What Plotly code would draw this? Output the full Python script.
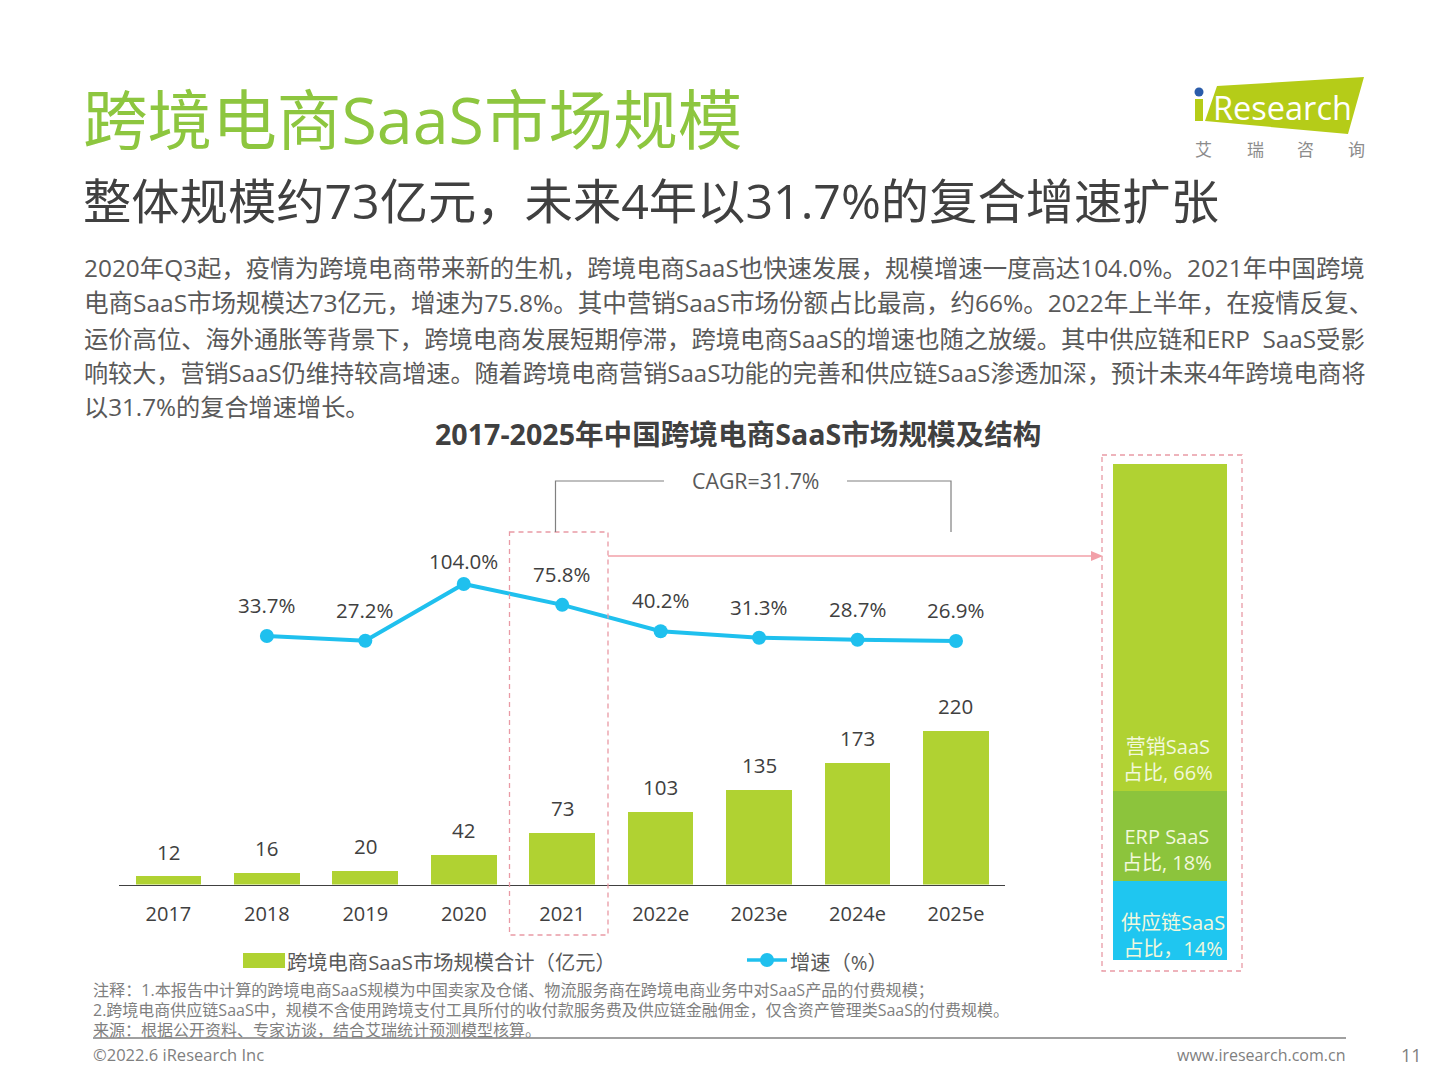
import plotly.graph_objects as go

W, H = 1440, 1080
FONT = "Open Sans, Noto Sans CJK SC, sans-serif"

categories = ["2017", "2018", "2019", "2020", "2021", "2022e", "2023e", "2024e", "2025e"]
market_size = [12, 16, 20, 42, 73, 103, 135, 173, 220]
growth_categories = ["2018", "2019", "2020", "2021", "2022e", "2023e", "2024e", "2025e"]
growth_rate = [33.7, 27.2, 104.0, 75.8, 40.2, 31.3, 28.7, 26.9]
growth_labels = ["33.7%", "27.2%", "104.0%", "75.8%", "40.2%", "31.3%", "28.7%", "26.9%"]
structure_names = ["供应链SaaS", "ERP SaaS", "营销SaaS"]
structure_heights = [16, 18, 66]
structure_colors = ["#1FC6F0", "#8CC43C", "#B0D232"]

paragraph = [
    "2020年Q3起，疫情为跨境电商带来新的生机，跨境电商SaaS也快速发展，规模增速一度高达104.0%。2021年中国跨境",
    "电商SaaS市场规模达73亿元，增速为75.8%。其中营销SaaS市场份额占比最高，约66%。2022年上半年，在疫情反复、",
    "运价高位、海外通胀等背景下，跨境电商发展短期停滞，跨境电商SaaS的增速也随之放缓。其中供应链和ERP  SaaS受影",
    "响较大，营销SaaS仍维持较高增速。随着跨境电商营销SaaS功能的完善和供应链SaaS渗透加深，预计未来4年跨境电商将",
    "以31.7%的复合增速增长。",
]
notes = [
    "注释：1.本报告中计算的跨境电商SaaS规模为中国卖家及仓储、物流服务商在跨境电商业务中对SaaS产品的付费规模；",
    "2.跨境电商供应链SaaS中，规模不含使用跨境支付工具所付的收付款服务费及供应链金融佣金，仅含资产管理类SaaS的付费规模。",
    "来源：根据公开资料、专家访谈，结合艾瑞统计预测模型核算。",
]


def px(x):
    return x / W


def py(y):
    return 1 - y / H


annotations = []
shapes = []


def text(x, y, s, size, color="#404040", anchor="left", bold=False):
    annotations.append(dict(
        xref="paper", yref="paper", x=px(x), y=py(y), text=f"<b>{s}</b>" if bold else s,
        xanchor=anchor, yanchor="middle", showarrow=False,
        font=dict(family=FONT, size=size, color=color), borderpad=0, borderwidth=0,
    ))


def pshape(d, fill=None, line=None, width=1, dash="solid"):
    shapes.append(dict(
        type="path", xref="paper", yref="paper", path=d,
        fillcolor=fill if fill else "rgba(0,0,0,0)",
        line=dict(color=line if line else "rgba(0,0,0,0)", width=width if line else 0, dash=dash),
    ))


def seg(pts):
    return "M " + " L ".join(f"{px(x):.5f},{py(y):.5f}" for x, y in pts)


# Headings
text(83, 119, "跨境电商SaaS市场规模", 64.6, "#8DC63F")
text(83, 200, "整体规模约73亿元，未来4年以31.7%的复合增速扩张", 48.3, "#404040")
for y, line, size in zip([267.5, 302.5, 338.5, 372.5, 406.5], paragraph, [24.4, 24.5, 24.3, 24.1, 24.2]):
    text(84, y, line, size, "#595959")
text(738, 433.5, "2017-2025年中国跨境电商SaaS市场规模及结构", 28.6, "#404040", "center", True)

# Logo
pshape(seg([(1217, 86), (1364, 77), (1348, 134), (1205, 121)]) + " Z", fill="#B5CC18")
pshape(seg([(1195, 99), (1203, 99), (1203, 121), (1195, 121)]) + " Z", fill="#B5CC18")
shapes.append(dict(type="circle", xref="paper", yref="paper", x0=px(1194.5), x1=px(1203.5),
                   y0=py(96.5), y1=py(87.5), fillcolor="#2A5CAA", line=dict(width=0)))
text(1282, 107, "Research", 32.5, "#FFFFFF", "center")
for x, ch in zip([1203, 1255, 1305, 1356], "艾瑞咨询"):
    text(x, 150, ch, 17, "#8C8C8C", "center")

# Call-outs
PINK = "#E99AA5"
pshape(seg([(509.5, 532), (608, 532), (608, 935), (509.5, 935)]) + " Z", line=PINK, width=1.3, dash="5px,4px")
pshape(seg([(1102, 455), (1242, 455), (1242, 971), (1102, 971)]) + " Z", line=PINK, width=1.3, dash="5px,4px")
pshape(seg([(608, 556), (1092, 556)]), line="#F2A0A8", width=1.6)
pshape(seg([(1091, 551), (1103, 556), (1091, 561)]) + " Z", fill="#F2A0A8")
pshape(seg([(555.5, 532), (555.5, 481), (664, 481)]), line="#808080", width=1.2)
pshape(seg([(847, 481), (951, 481), (951, 532)]), line="#808080", width=1.2)
text(755, 480, "CAGR=31.7%", 21.3, "#595959", "center")

# Legend
pshape(seg([(243, 953), (285, 953), (285, 968), (243, 968)]) + " Z", fill="#B0D232")
text(287, 962, "跨境电商SaaS市场规模合计（亿元）", 20.3, "#595959")
pshape(seg([(747, 960), (787, 960)]), line="#1FC0EE", width=3.5)
shapes.append(dict(type="circle", xref="paper", yref="paper", x0=px(760), x1=px(774),
                   y0=py(967), y1=py(953), fillcolor="#1FC0EE", line=dict(width=0)))
text(790, 962, "增速（%）", 20.3, "#595959")

# Stacked-bar labels
for x, y, s in zip([1168, 1167, 1173], [759.5, 849.5, 935.5],
                   ["营销SaaS<br>占比, 66%", "ERP SaaS<br>占比, 18%", "供应链SaaS<br>占比，14%"]):
    text(x, y, s, 20, "#F2F8DC", "center")

# Footer
for y, line, size in zip([990, 1010, 1030], notes, [16.1, 16, 16]):
    text(93, y, line, size, "#7F7F7F")
pshape(seg([(93, 1038), (1346, 1038)]), line="#808080", width=1.6)
text(93, 1054.5, "©2022.6 iResearch Inc", 16.5, "#7F7F7F")
text(1345, 1054.5, "www.iresearch.com.cn", 16, "#7F7F7F", "right")
text(1411, 1054.5, "11", 18, "#7F7F7F", "center")

# Value labels tied to the data; category axes place annotations by category index
for i, v in enumerate(market_size):
    annotations.append(dict(xref="x", yref="y", x=i, y=v, text=str(v), yanchor="middle",
                            yshift=25 if v > 12 else 24, showarrow=False,
                            font=dict(family=FONT, size=20.5, color="#404040")))
for c, v, s in zip(growth_categories, growth_rate, growth_labels):
    annotations.append(dict(xref="x", yref="y2", x=categories.index(c), y=v, text=s, yanchor="middle",
                            yshift=23 if v > 100 else 31, showarrow=False,
                            font=dict(family=FONT, size=20.5, color="#404040")))

fig = go.Figure()
fig.add_trace(go.Bar(x=categories, y=market_size, width=0.667, marker=dict(color="#B0D232", line=dict(width=0)),
                     name="跨境电商SaaS市场规模合计（亿元）", xaxis="x", yaxis="y"))
fig.add_trace(go.Scatter(x=growth_categories, y=growth_rate, mode="lines+markers", name="增速（%）",
                         line=dict(color="#1FC0EE", width=4), marker=dict(color="#1FC0EE", size=14),
                         xaxis="x", yaxis="y2"))
for name, h, col in zip(structure_names, structure_heights, structure_colors):
    fig.add_trace(go.Bar(x=["结构"], y=[h], width=1, name=name, marker=dict(color=col, line=dict(width=0)),
                         xaxis="x3", yaxis="y3"))

TOP, BASE = 460, 884.5
fig.update_layout(
    width=W, height=H, autosize=False, margin=dict(l=0, r=0, t=0, b=0),
    paper_bgcolor="#FFFFFF", plot_bgcolor="rgba(0,0,0,0)", showlegend=False, barmode="stack",
    font=dict(family=FONT, color="#404040"),
    annotations=annotations, shapes=shapes,
    xaxis=dict(domain=[px(119.2), px(1005.2)], type="category", categoryorder="array", categoryarray=categories,
               range=[-0.5, 8.5], showgrid=False, showline=True, linecolor="#404040", linewidth=1.3,
               ticks="", ticklabelstandoff=11, tickfont=dict(family=FONT, size=20, color="#404040"), anchor="y"),
    yaxis=dict(domain=[py(BASE), py(TOP)], range=[0, (BASE - TOP) / 0.7], visible=False, anchor="x"),
    yaxis2=dict(domain=[py(BASE), py(TOP)], range=[26.9 - (BASE - 641) / 0.74, 104 + (584 - TOP) / 0.74],
                visible=False, anchor="x", overlaying="y"),
    xaxis3=dict(domain=[px(1113), px(1227)], type="category", range=[-0.5, 0.5], visible=False, anchor="y3"),
    yaxis3=dict(domain=[py(960), py(464)], range=[0, 100], visible=False, anchor="x3"),
)

fig.write_html("out.html", config={"displayModeBar": False},
               post_script="document.body.style.margin='0';document.body.style.overflow='hidden';")
